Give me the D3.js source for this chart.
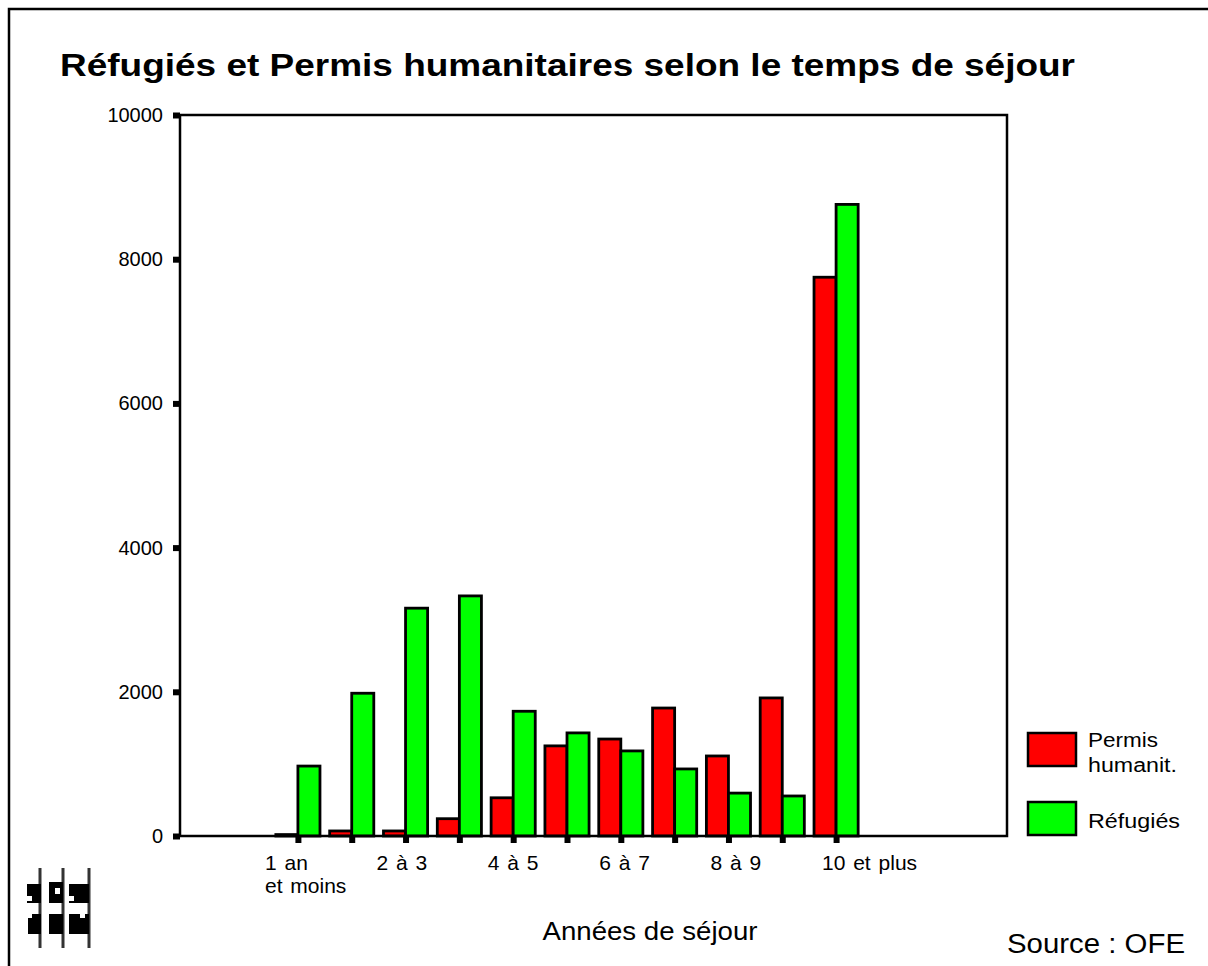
<!DOCTYPE html>
<html lang="fr">
<head>
<meta charset="utf-8">
<script src="https://cdn.jsdelivr.net/npm/d3@7/dist/d3.min.js"></script>
<style>
  html, body { margin: 0; padding: 0; background: #fff; }
  svg { display: block; font-family: "Liberation Sans", Arial, Helvetica, sans-serif; }
</style>
</head>
<body>
<svg id="chart" width="1208" height="966"></svg>
<script>
// Durée de séjour (groupes) et effectifs par statut
const categories = ["1", "2", "3", "4", "5", "6", "7", "8", "9", "10", "11"];
const permisHumanitaires = [20, 70, 70, 240, 530, 1250, 1345, 1775, 1110, 1915, 7750];
const refugies = [970, 1980, 3160, 3330, 1730, 1430, 1180, 930, 595, 555, 8760];
const seriesNames = ["Permis humanit.", "Réfugiés"];
const seriesColors = ["#ff0000", "#00ff00"];
const yTicks = [0, 2000, 4000, 6000, 8000, 10000];
// Libellés de l'axe horizontal
const xLabels = [
  ["1 an", "et moins"],
  ["2 à 3"],
  ["4 à 5"],
  ["6 à 7"],
  ["8 à 9"],
  ["10 et plus"]
];

const svg = d3.select("#chart");
const plot = { left: 180, right: 1007, top: 115, bottom: 836 };

// Cadre extérieur (haut et gauche)
svg.append("path")
  .attr("d", "M9,970 V9 H1208")
  .attr("fill", "none").attr("stroke", "#000").attr("stroke-width", 2.5);

// Titre
svg.append("text")
  .attr("x", 60).attr("y", 76)
  .attr("font-size", 32).attr("font-weight", "bold")
  .attr("textLength", 1015).attr("lengthAdjust", "spacingAndGlyphs")
  .text("Réfugiés et Permis humanitaires selon le temps de séjour");

// Échelles
const y = d3.scaleLinear().domain([0, 10000]).range([plot.bottom, plot.top]);
const x0 = d3.scaleBand().domain(categories).range([271, 863])
  .paddingInner(0.18).paddingOuter(0.09);
const x1 = d3.scaleBand().domain([0, 1]).range([0, x0.bandwidth()]);
// Position (début de texte) des libellés de l'axe horizontal
const xLab = d3.scalePoint().domain(d3.range(xLabels.length)).range([265, 822]);

const rows = categories.map((c, i) => ({ cat: c, values: [permisHumanitaires[i], refugies[i]] }));

// Barres groupées
const groups = svg.append("g").selectAll("g").data(rows).join("g")
  .attr("transform", d => `translate(${x0(d.cat)},0)`);
groups.selectAll("rect").data(d => d.values.map((v, k) => ({ v, k }))).join("rect")
  .attr("x", d => x1(d.k))
  .attr("width", x1.bandwidth())
  .attr("y", d => y(d.v))
  .attr("height", d => plot.bottom - y(d.v))
  .attr("fill", d => seriesColors[d.k])
  .attr("stroke", "#000").attr("stroke-width", 2.8);

// Cadre du graphique
svg.append("rect")
  .attr("x", plot.left).attr("y", plot.top)
  .attr("width", plot.right - plot.left).attr("height", plot.bottom - plot.top)
  .attr("fill", "none").attr("stroke", "#000").attr("stroke-width", 2.5);

// Axe vertical : repères carrés et valeurs
const yAxis = svg.append("g").attr("transform", `translate(${plot.left},0)`)
  .call(d3.axisLeft(y).tickValues(yTicks).tickSize(7).tickPadding(10).tickFormat(d3.format("d")));
yAxis.select(".domain").remove();
yAxis.selectAll(".tick line").attr("stroke", "#000").attr("stroke-width", 6);
yAxis.selectAll(".tick text")
  .attr("font-size", 20).attr("fill", "#000")
  .attr("font-family", "'Liberation Sans', Arial, sans-serif");

// Axe horizontal : repères carrés au centre de chaque groupe
const xAxis = svg.append("g").attr("transform", `translate(0,${plot.bottom + 1})`)
  .call(d3.axisBottom(d3.scalePoint().domain(categories)
      .range([x0(categories[0]) + x0.bandwidth() / 2, x0(categories[categories.length - 1]) + x0.bandwidth() / 2]))
    .tickSize(6).tickFormat(""));
xAxis.select(".domain").remove();
xAxis.selectAll(".tick line").attr("stroke", "#000").attr("stroke-width", 6);

// Libellés des catégories
const lab = svg.append("g").selectAll("text").data(xLabels).join("text")
  .attr("x", (d, i) => xLab(i))
  .attr("y", 870)
  .attr("font-size", 21)
  .attr("word-spacing", 2);
lab.selectAll("tspan").data((d, i) => d.map((t, k) => ({ t, k, x: xLab(i) }))).join("tspan")
  .attr("x", d => d.x)
  .attr("dy", d => d.k === 0 ? 0 : 23)
  .text(d => d.t);

// Titre de l'axe horizontal
svg.append("text")
  .attr("x", 650).attr("y", 940)
  .attr("text-anchor", "middle").attr("font-size", 25)
  .attr("textLength", 215).attr("lengthAdjust", "spacingAndGlyphs")
  .text("Années de séjour");

// Source
svg.append("text")
  .attr("x", 1007).attr("y", 953)
  .attr("font-size", 27)
  .attr("textLength", 178).attr("lengthAdjust", "spacingAndGlyphs")
  .text("Source : OFE");

// Légende
const legend = svg.append("g");
const legendRows = [
  { color: seriesColors[0], y: 733, lines: [["Permis", 70], ["humanit.", 89]] },
  { color: seriesColors[1], y: 802, lines: [["Réfugiés", 92]] }
];
legendRows.forEach(r => {
  legend.append("rect")
    .attr("x", 1028).attr("y", r.y).attr("width", 48).attr("height", 33)
    .attr("fill", r.color).attr("stroke", "#000").attr("stroke-width", 2.5);
  const base = r.lines.length > 1 ? r.y + 14 : r.y + 26;
  r.lines.forEach((l, i) => {
    legend.append("text").attr("font-size", 20)
      .attr("x", 1088).attr("y", base + i * 25)
      .attr("textLength", l[1]).attr("lengthAdjust", "spacingAndGlyphs")
      .text(l[0]);
  });
});

// Logo (motif en blocs)
const logo = svg.append("g");
[40, 63, 89].forEach(lx => {
  logo.append("rect").attr("x", lx - 1.5).attr("y", 868).attr("width", 3).attr("height", 80).attr("fill", "#333");
});
const blocks = [
  [27, 884, 14, 19], [28, 914, 13, 20],
  [49, 882, 14, 21], [49, 914, 14, 20],
  [69, 884, 20, 19], [69, 914, 20, 20]
];
blocks.forEach(b => {
  logo.append("rect").attr("x", b[0]).attr("y", b[1]).attr("width", b[2]).attr("height", b[3]).attr("fill", "#000");
});
// Entailles blanches dans les blocs
[[27, 896, 5, 5], [28, 914, 4, 4], [55, 888, 5, 6], [69, 896, 5, 5], [80, 914, 5, 4]].forEach(b => {
  logo.append("rect").attr("x", b[0]).attr("y", b[1]).attr("width", b[2]).attr("height", b[3]).attr("fill", "#fff");
});
</script>
</body>
</html>
